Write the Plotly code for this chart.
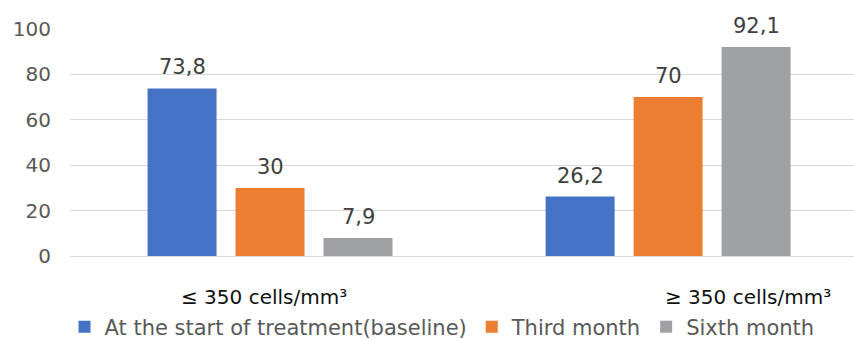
import plotly.graph_objects as go

# CD4 count groups and share of patients (%) at each time point
categories = ["≤ 350 cells/mm³", "≥ 350 cells/mm³"]
series_names = ["At the start of treatment(baseline)", "Third month", "Sixth month"]
baseline = [73.8, 26.2]
third_month = [30, 70]
sixth_month = [7.9, 92.1]
y_ticks = [0, 20, 40, 60, 80, 100]

series_values = [baseline, third_month, sixth_month]
colors = ["#4472C4", "#ED7D31", "#9EA0A3"]

FONT = "DejaVu Sans"
BARGAP = 0.337
BARGROUPGAP = 0.216
PLOT_TOP, PLOT_BOTTOM = 29, 256


def fmt(v):
    s = f"{v:g}"
    return s.replace(".", ",")


fig = go.Figure()
for name, vals, col in zip(series_names, series_values, colors):
    fig.add_trace(go.Bar(
        x=list(range(len(categories))), y=vals, name=name,
        marker=dict(color=col, line=dict(width=0)),
        hoverinfo="skip",
    ))

# value labels above each bar
slot = (1 - BARGAP) / len(series_values)
annotations = []
for j, vals in enumerate(series_values):
    for i, v in enumerate(vals):
        annotations.append(dict(
            x=i + (j - (len(series_values) - 1) / 2) * slot, y=v,
            xref="x", yref="y", text=fmt(v), showarrow=False,
            yanchor="bottom", yshift=7,
            font=dict(family=FONT, size=21, color="#404040"),
        ))

# category labels under the groups
cat_pos = [0.247, 0.865]
cat_y = (PLOT_BOTTOM - 297) / (PLOT_BOTTOM - PLOT_TOP)
for label, px in zip(categories, cat_pos):
    annotations.append(dict(
        x=px, y=cat_y, xref="paper", yref="paper", text=label,
        showarrow=False, xanchor="center", yanchor="middle",
        font=dict(family=FONT, size=20, color="#111111"),
    ))

fig.update_layout(
    width=854, height=340,
    margin=dict(l=70, r=0, t=PLOT_TOP, b=340 - PLOT_BOTTOM, autoexpand=False),
    paper_bgcolor="white", plot_bgcolor="white",
    barmode="group", bargap=BARGAP, bargroupgap=BARGROUPGAP,
    showlegend=True,
    legend=dict(
        orientation="h", x=0.4745, xanchor="center",
        yref="container", y=13 / 340, yanchor="middle",
        font=dict(family=FONT, size=21, color="#595959"),
        itemwidth=30, traceorder="normal",
    ),
    annotations=annotations,
    xaxis=dict(
        range=[-0.5025, 1.467], showticklabels=False, showgrid=False,
        zeroline=False, showline=False, ticks="",
    ),
    yaxis=dict(
        range=[0, 100], tickvals=y_ticks, showgrid=True, gridcolor="#D9D9D9",
        gridwidth=1, zeroline=True, zerolinecolor="#D9D9D9", zerolinewidth=1,
        showline=False, ticks="", ticklabelstandoff=18,
        tickfont=dict(family=FONT, size=20, color="#595959"),
    ),
)

fig.write_html("out.html")
